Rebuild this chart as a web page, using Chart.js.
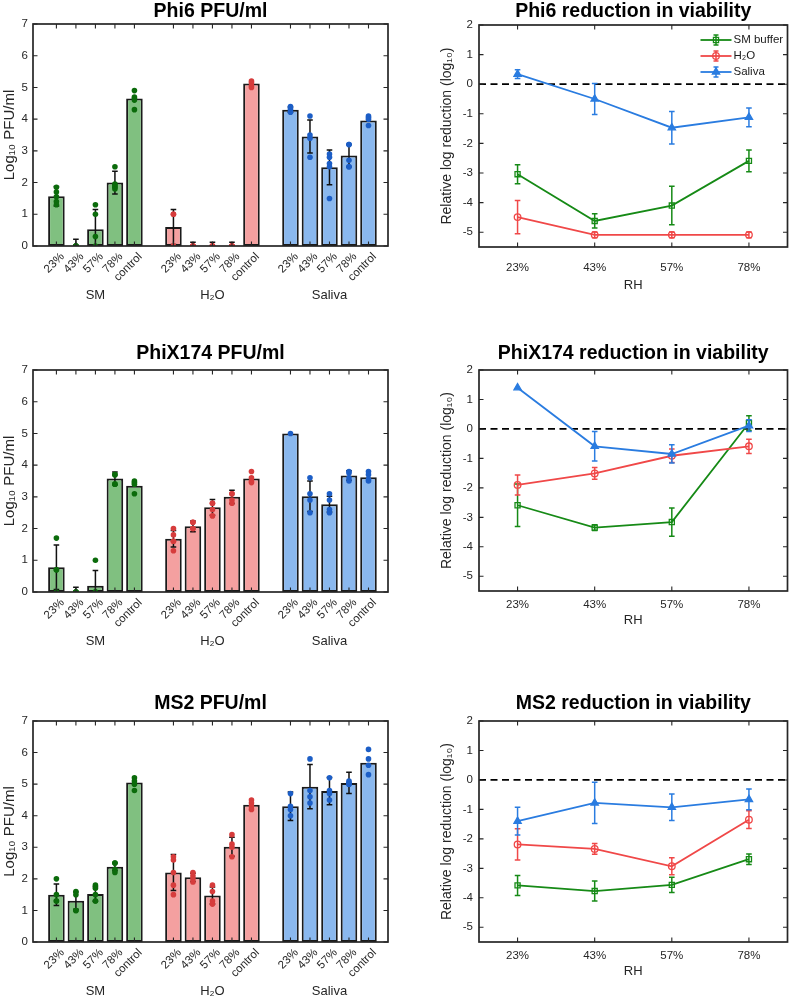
<!DOCTYPE html>
<html><head><meta charset="utf-8">
<script src="https://cdn.jsdelivr.net/npm/chart.js"></script>
<style>
html,body{margin:0;padding:0;background:#fff;}
body{width:793px;height:1005px;position:relative;overflow:hidden;}
canvas{position:absolute;display:block;}
</style></head><body>
<canvas id="b1"></canvas><canvas id="l1"></canvas>
<canvas id="b2"></canvas><canvas id="l2"></canvas>
<canvas id="b3"></canvas><canvas id="l3"></canvas>
<script>
// ---------- labels ----------
const barCategories = ['23%','43%','57%','78%','control'];
const groupLabels = ['SM','H₂O','Saliva'];
const rhLabels = ['23%','43%','57%','78%'];
const seriesNames = ['SM buffer','H₂O','Saliva'];
const barYTicks = [0,1,2,3,4,5,6,7];
const lineYTicks = [-5,-4,-3,-2,-1,0,1,2];

// ---------- Phi6 PFU/ml ----------
const phi6SMMean = [1.57, 0, 0.53, 2.0, 4.65];
const phi6SMSd = [0.31, 0.21, 0.62, 0.36, 0];
const phi6SMPts = [[1.85,1.7,1.55,1.4,1.3],[0,0,0,0],[1.3,1.0,0.3,0],[2.5,1.95,1.9,1.85,1.8],[4.9,4.7,4.65,4.6,4.3]];
const phi6H2OMean = [0.6, 0, 0, 0, 5.12];
const phi6H2OSd = [0.55, 0.12, 0.12, 0.12, 0];
const phi6H2OPts = [[1.0,1.0,0,0],[0,0,0,0],[0,0,0,0],[0,0,0,0],[5.2,5.15,5.05,5.0]];
const phi6SalMean = [4.3, 3.45, 2.48, 2.85, 3.96];
const phi6SalSd = [0.08, 0.52, 0.55, 0.35, 0];
const phi6SalPts = [[4.4,4.35,4.3,4.22],[4.1,3.5,3.4,2.8],[2.9,2.8,2.6,2.5,1.5],[3.2,3.2,2.7,2.5,2.5],[4.1,4.05,4.0,3.8]];

// ---------- PhiX174 PFU/ml ----------
const phixSMMean = [0.78, 0, 0.2, 3.58, 3.35];
const phixSMSd = [0.7, 0.15, 0.48, 0.2, 0];
const phixSMPts = [[1.7,0.7,0.7,0],[0,0,0,0],[1.0,0,0,0],[3.7,3.7,3.4,3.4],[3.5,3.45,3.4,3.1]];
const phixH2OMean = [1.68, 2.07, 2.67, 3.0, 3.58];
const phixH2OSd = [0.26, 0.17, 0.25, 0.21, 0];
const phixH2OPts = [[2.0,1.8,1.6,1.6,1.3],[2.2,2.2,2.0,2.0],[2.8,2.8,2.6,2.4],[3.1,3.1,2.9,2.8],[3.8,3.6,3.5,3.45]];
const phixSalMean = [5.0, 3.02, 2.77, 3.67, 3.62];
const phixSalSd = [0, 0.48, 0.25, 0.15, 0];
const phixSalPts = [[5.0],[3.6,3.1,2.9,2.5],[3.1,2.9,2.6,2.5],[3.8,3.75,3.6,3.5],[3.8,3.7,3.55,3.5]];

// ---------- MS2 PFU/ml ----------
const ms2SMMean = [1.5, 1.31, 1.52, 2.38, 5.05];
const ms2SMSd = [0.34, 0.27, 0.23, 0.12, 0];
const ms2SMPts = [[2.0,1.5,1.3,1.3],[1.6,1.5,1.0,1.0],[1.8,1.7,1.5,1.3,1.3],[2.5,2.5,2.3,2.2],[5.2,5.1,5.0,4.8]];
const ms2H2OMean = [2.2, 2.05, 1.47, 3.02, 4.35];
const ms2H2OSd = [0.57, 0.13, 0.27, 0.3, 0];
const ms2H2OPts = [[2.7,2.6,2.2,1.8,1.5],[2.2,2.1,2.0,1.9],[1.8,1.6,1.3,1.2],[3.4,3.1,3.0,2.7],[4.5,4.4,4.3,4.2]];
const ms2SalMean = [4.3, 4.92, 4.78, 5.04, 5.68];
const ms2SalSd = [0.45, 0.7, 0.43, 0.34, 0];
const ms2SalPts = [[4.7,4.3,4.2,4.0],[5.8,4.8,4.6,4.4],[5.2,4.8,4.7,4.5],[5.1,5.05,5.0,5.0],[6.1,5.8,5.6,5.3]];

// ---------- reduction in viability (log10) ----------
const phi6RedSM = [-3.04, -4.62, -4.1, -2.59];
const phi6RedSMSd = [0.32, 0.24, 0.65, 0.37];
const phi6RedH2O = [-4.49, -5.09, -5.09, -5.09];
const phi6RedH2OSd = [0.56, 0.1, 0.1, 0.1];
const phi6RedSal = [0.34, -0.5, -1.47, -1.12];
const phi6RedSalSd = [0.15, 0.52, 0.55, 0.32];

const phixRedSM = [-2.59, -3.35, -3.16, 0.2];
const phixRedSMSd = [0.72, 0.1, 0.48, 0.25];
const phixRedH2O = [-1.9, -1.51, -0.91, -0.59];
const phixRedH2OSd = [0.34, 0.2, 0.23, 0.24];
const phixRedSal = [1.4, -0.59, -0.85, 0.11];
const phixRedSalSd = [0, 0.5, 0.31, 0.2];

const ms2RedSM = [-3.58, -3.77, -3.56, -2.69];
const ms2RedSMSd = [0.34, 0.34, 0.26, 0.18];
const ms2RedH2O = [-2.19, -2.34, -2.93, -1.35];
const ms2RedH2OSd = [0.53, 0.18, 0.29, 0.3];
const ms2RedSal = [-1.4, -0.78, -0.93, -0.66];
const ms2RedSalSd = [0.47, 0.7, 0.45, 0.35];

// ---------- styles ----------
const FONT = "'Liberation Sans', Arial, Helvetica, sans-serif";
const INK = '#262626';
const TITLE_SIZE = 19.5, TITLE_LH = TITLE_SIZE * 1.2;
const BAR_FILL = ['#80c080', '#f4a0a0', '#8ab8ee'];
const DOT_COL = ['#0b6b0b', '#d63c3c', '#1c5ec6'];
const LINE_COL = ['#168a16', '#f04848', '#2a7ce0'];
const LINE_STYLE = ['rect', 'circle', 'triangle'];
const LINE_RAD = [3.6, 3.3, 4.2];
Chart.defaults.font.family = FONT;
Chart.defaults.color = INK;

function xPos(g, i) { return g * 6 + i + 1; }
const barXTickValues = [0,1,2].flatMap(g => barCategories.map((c, i) => xPos(g, i)));
const groupTickValues = [0,1,2].map(g => xPos(g, 2));

// ---------- plugins ----------
const errorBarPlugin = {
  id: 'errorBars',
  afterDatasetDraw(chart, args) {
    const ds = chart.data.datasets[args.index];
    if (!ds.errSd) return;
    const ctx = chart.ctx, ys = chart.scales.y, a = chart.chartArea;
    ctx.save();
    ctx.beginPath(); ctx.rect(a.left, a.top - 2, a.right - a.left, a.bottom - a.top + 2); ctx.clip();
    ctx.strokeStyle = ds.errColor; ctx.lineWidth = ds.errWidth;
    args.meta.data.forEach((el, i) => {
      const sd = ds.errSd[i]; if (!sd) return;
      const raw = ds.data[i]; const v = (typeof raw === 'object') ? raw.y : raw;
      const x = el.x, yt = ys.getPixelForValue(v + sd), yb = ys.getPixelForValue(v - sd), c = ds.errCap;
      ctx.beginPath();
      ctx.moveTo(x, yt); ctx.lineTo(x, yb);
      ctx.moveTo(x - c, yt); ctx.lineTo(x + c, yt);
      ctx.moveTo(x - c, yb); ctx.lineTo(x + c, yb);
      ctx.stroke();
    });
    ctx.restore();
  }
};
const framePlugin = {
  id: 'frame',
  afterDatasetsDraw(chart) {
    const {ctx, chartArea: a, scales} = chart;
    const xs = scales.x, ys = scales.y, L = 4.5;
    ctx.save(); ctx.strokeStyle = INK; ctx.lineWidth = 1.1;
    ctx.beginPath();
    xs.ticks.forEach((t, i) => { const p = xs.getPixelForTick(i);
      ctx.moveTo(p, a.bottom); ctx.lineTo(p, a.bottom - L); ctx.moveTo(p, a.top); ctx.lineTo(p, a.top + L); });
    ys.ticks.forEach((t, i) => { const p = ys.getPixelForTick(i);
      ctx.moveTo(a.left, p); ctx.lineTo(a.left + L, p); ctx.moveTo(a.right, p); ctx.lineTo(a.right - L, p); });
    ctx.stroke();
    ctx.lineWidth = 1.7; ctx.strokeRect(a.left, a.top, a.right - a.left, a.bottom - a.top);
    ctx.restore();
  }
};
const zeroLinePlugin = {
  id: 'zeroLine',
  beforeDatasetsDraw(chart) {
    const {ctx, chartArea: a, scales} = chart;
    const y = scales.y.getPixelForValue(0);
    ctx.save(); ctx.strokeStyle = '#000'; ctx.lineWidth = 1.8; ctx.setLineDash([7, 4.5]);
    ctx.beginPath(); ctx.moveTo(a.left, y); ctx.lineTo(a.right, y); ctx.stroke(); ctx.restore();
  }
};
function drawMarker(ctx, style, x, y, r, color, filled) {
  ctx.beginPath();
  if (style === 'rect') { const s = r * Math.SQRT1_2; ctx.rect(x - s, y - s, 2 * s, 2 * s); }
  else if (style === 'circle') { ctx.arc(x, y, r, 0, Math.PI * 2); }
  else { ctx.moveTo(x, y - r); ctx.lineTo(x + r * 0.866, y + r * 0.5); ctx.lineTo(x - r * 0.866, y + r * 0.5); ctx.closePath(); }
  if (filled) { ctx.fillStyle = color; ctx.fill(); }
  ctx.strokeStyle = color; ctx.lineWidth = 1.3; ctx.stroke();
}
const legendPlugin = {
  id: 'seriesLegend',
  afterDraw(chart) {
    const {ctx, chartArea: a} = chart;
    const x0 = a.right - 87, x1 = a.right - 56, xm = (x0 + x1) / 2;
    const offs = [15, 31, 47];
    chart.data.datasets.forEach((ds, k) => {
      const y = a.top + offs[k];
      ctx.save();
      ctx.strokeStyle = ds.borderColor; ctx.lineWidth = 1.8;
      ctx.beginPath(); ctx.moveTo(x0, y); ctx.lineTo(x1, y); ctx.stroke();
      ctx.lineWidth = 1.5; ctx.beginPath();
      ctx.moveTo(xm, y - 5); ctx.lineTo(xm, y + 5);
      ctx.moveTo(xm - 2.5, y - 5); ctx.lineTo(xm + 2.5, y - 5);
      ctx.moveTo(xm - 2.5, y + 5); ctx.lineTo(xm + 2.5, y + 5); ctx.stroke();
      drawMarker(ctx, ds.pointStyle, xm, y, ds.pointRadius, ds.borderColor, ds.pointStyle === 'triangle');
      ctx.fillStyle = '#1a1a1a'; ctx.font = '11.5px ' + FONT; ctx.textBaseline = 'middle'; ctx.textAlign = 'left';
      ctx.fillText(ds.label, x1 + 2, y);
      ctx.restore();
    });
  }
};

function setupCanvas(id, left, top, w, h) {
  const c = document.getElementById(id);
  c.width = w; c.height = h; c.style.left = left + 'px'; c.style.top = top + 'px';
  c.style.width = w + 'px'; c.style.height = h + 'px';
  return c;
}

function barPanel(id, title, means, sds, pts, lay) {
  const canvas = setupCanvas(id, 0, lay.top, 400, TITLE_LH + lay.titleB + lay.chartH + 60);
  const datasets = [];
  pts.forEach((p, g) => {
    datasets.push({ type: 'scatter', label: groupLabels[g] + ' replicates',
      data: p.flatMap((arr, i) => arr.map(v => ({ x: xPos(g, i), y: v }))),
      pointRadius: 2.8, pointBackgroundColor: DOT_COL[g], pointBorderWidth: 0, order: 0 });
  });
  means.forEach((m, g) => {
    datasets.push({ type: 'bar', label: groupLabels[g],
      data: m.map((v, i) => ({ x: xPos(g, i), y: v })),
      errSd: sds[g], errColor: '#111', errWidth: 1.5, errCap: 2.8,
      backgroundColor: BAR_FILL[g], borderColor: '#1a1a1a', borderWidth: 2, borderSkipped: false,
      grouped: false, categoryPercentage: 1, barPercentage: 0.85, order: 2 });
  });
  new Chart(canvas, {
    type: 'bar',
    data: { datasets },
    options: {
      responsive: false, animation: false, events: [],
      layout: { padding: { left: 0, right: 12, top: 0, bottom: 0 } },
      plugins: {
        legend: { display: false }, tooltip: { enabled: false },
        title: { display: true, fullSize: false, text: title, color: '#000',
          font: { size: TITLE_SIZE, weight: 'bold', lineHeight: 1.2 }, padding: { top: 0, bottom: lay.titleB } }
      },
      scales: {
        x: { type: 'linear', position: 'bottom', weight: 0, min: -0.2, max: 18, offset: false,
          grid: { display: false, drawTicks: false }, border: { display: false },
          afterBuildTicks: s => { s.ticks = barXTickValues.map(v => ({ value: v })); },
          ticks: { autoSkip: false, minRotation: 45, maxRotation: 45, padding: 4, labelOffset: 6, color: INK,
            font: { size: 11.5 }, callback: (v, i) => barCategories[i % barCategories.length] },
          afterFit: s => { s.height = 40; } },
        x2: { type: 'linear', position: 'bottom', weight: 1, min: -0.2, max: 18, offset: false,
          grid: { display: false, drawTicks: false }, border: { display: false },
          afterBuildTicks: s => { s.ticks = groupTickValues.map(v => ({ value: v })); },
          ticks: { autoSkip: false, maxRotation: 0, minRotation: 0, padding: 2, color: INK,
            font: { size: 13 }, callback: (v, i) => groupLabels[i] },
          afterFit: s => { s.height = 20; } },
        y: { min: 0, max: 7,
          afterBuildTicks: s => { s.ticks = barYTicks.map(v => ({ value: v })); },
          grid: { display: false, drawTicks: false }, border: { display: false },
          ticks: { padding: 5, color: INK, font: { size: 11.5 } },
          title: { display: true, text: 'Log₁₀ PFU/ml', color: INK, font: { size: 15 }, padding: { top: 1, bottom: 0 } },
          afterFit: s => { s.width = 33; } }
      }
    },
    plugins: [errorBarPlugin, framePlugin]
  });
}

function linePanel(id, title, means, sds, lay, withLegend) {
  const canvas = setupCanvas(id, 432, lay.top, 361, TITLE_LH + lay.titleB + lay.chartH + lay.xH);
  const datasets = means.map((m, k) => ({
    label: seriesNames[k], data: m, errSd: sds[k], errColor: LINE_COL[k], errWidth: 1.5, errCap: 2.8,
    borderColor: LINE_COL[k], backgroundColor: LINE_COL[k], borderWidth: 1.8, tension: 0,
    pointStyle: LINE_STYLE[k], pointRadius: LINE_RAD[k], pointBorderWidth: 1.3,
    pointBorderColor: LINE_COL[k], pointBackgroundColor: k === 2 ? LINE_COL[k] : 'rgba(0,0,0,0)',
    order: 2 - k
  }));
  const plugins = [zeroLinePlugin, errorBarPlugin, framePlugin];
  if (withLegend) plugins.push(legendPlugin);
  new Chart(canvas, {
    type: 'line',
    data: { labels: rhLabels, datasets },
    options: {
      responsive: false, animation: false, events: [],
      layout: { padding: { left: 0, right: 4, top: 0, bottom: 0 } },
      plugins: {
        legend: { display: false }, tooltip: { enabled: false },
        title: { display: true, fullSize: false, text: title, color: '#000',
          font: { size: TITLE_SIZE, weight: 'bold', lineHeight: 1.2 }, padding: { top: 0, bottom: lay.titleB } }
      },
      scales: {
        x: { type: 'category', offset: true,
          grid: { display: false, drawTicks: false }, border: { display: false },
          ticks: { padding: lay.xPad, color: INK, font: { size: 11.5 }, maxRotation: 0 },
          title: { display: true, text: 'RH', color: INK, font: { size: 13 }, padding: { top: 0, bottom: 1.5 } },
          afterFit: s => { s.height = lay.xH; } },
        y: { min: -5.5, max: 2,
          afterBuildTicks: s => { s.ticks = lineYTicks.map(v => ({ value: v })); },
          grid: { display: false, drawTicks: false }, border: { display: false },
          ticks: { padding: 6, color: INK, font: { size: 11.5 } },
          title: { display: true, text: 'Relative log reduction (log₁₀)', color: INK, font: { size: 14 }, padding: { top: 6.3, bottom: 0 } },
          afterFit: s => { s.width = 47; } }
      }
    },
    plugins
  });
}

barPanel('b1', 'Phi6 PFU/ml', [phi6SMMean, phi6H2OMean, phi6SalMean], [phi6SMSd, phi6H2OSd, phi6SalSd],
  [phi6SMPts, phi6H2OPts, phi6SalPts], { top: 0, titleB: 0.6, chartH: 222 });
barPanel('b2', 'PhiX174 PFU/ml', [phixSMMean, phixH2OMean, phixSalMean], [phixSMSd, phixH2OSd, phixSalSd],
  [phixSMPts, phixH2OPts, phixSalPts], { top: 342, titleB: 4.6, chartH: 222 });
barPanel('b3', 'MS2 PFU/ml', [ms2SMMean, ms2H2OMean, ms2SalMean], [ms2SMSd, ms2H2OSd, ms2SalSd],
  [ms2SMPts, ms2H2OPts, ms2SalPts], { top: 692, titleB: 5.6, chartH: 221 });

linePanel('l1', 'Phi6 reduction in viability', [phi6RedSM, phi6RedH2O, phi6RedSal], [phi6RedSMSd, phi6RedH2OSd, phi6RedSalSd],
  { top: 0, titleB: 1.6, chartH: 222, xH: 48, xPad: 14 }, true);
linePanel('l2', 'PhiX174 reduction in viability', [phixRedSM, phixRedH2O, phixRedSal], [phixRedSMSd, phixRedH2OSd, phixRedSalSd],
  { top: 342, titleB: 4.6, chartH: 221, xH: 39, xPad: 6.7 }, false);
linePanel('l3', 'MS2 reduction in viability', [ms2RedSM, ms2RedH2O, ms2RedSal], [ms2RedSMSd, ms2RedH2OSd, ms2RedSalSd],
  { top: 692, titleB: 5.6, chartH: 221, xH: 39, xPad: 7.4 }, false);
</script>
</body></html>
